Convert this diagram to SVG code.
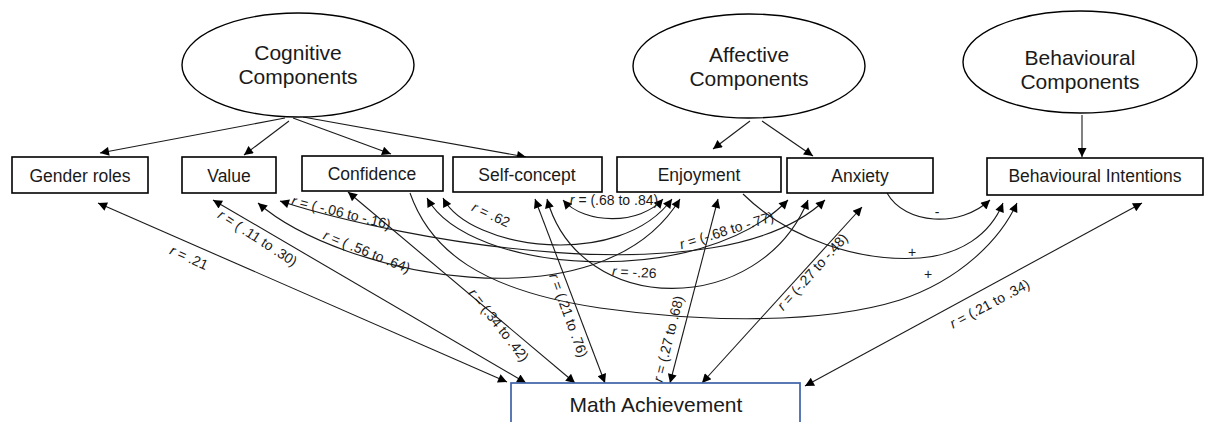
<svg xmlns="http://www.w3.org/2000/svg" width="1205" height="422" viewBox="0 0 1205 422">
<defs>
<marker id="ah" viewBox="0 0 10 10" refX="10" refY="5" markerWidth="11" markerHeight="9" markerUnits="userSpaceOnUse" orient="auto-start-reverse"><path d="M0,0 L10,5 L0,10 z" fill="#000"/></marker>
<style>
.ell{fill:#fff;stroke:#000;stroke-width:1.4}
.box{fill:#fff;stroke:#000;stroke-width:1.6}
.mbox{fill:#fff;stroke:#3d62a8;stroke-width:1.7}
.t{font-family:"Liberation Sans",Arial,sans-serif;fill:#1a1a1a;text-anchor:middle}
.big{font-size:21px}
.nl{font-size:17.5px}
.lb{font-size:14px}
.c{fill:none;stroke:#1a1a1a;stroke-width:1.1}
.s{marker-end:url(#ah)}
.d{marker-start:url(#ah);marker-end:url(#ah)}
</style>
</defs>
<rect width="1205" height="422" fill="#fff"/>

<g id="connectors">
<path class="c s" d="M285,118 L100,153"/>
<path class="c s" d="M289,121 L244,155"/>
<path class="c s" d="M293,118 L391,154"/>
<path class="c s" d="M303,117 L526,157"/>
<path class="c s" d="M750,121 L713,149"/>
<path class="c s" d="M762,121 L813,156"/>
<path class="c s" d="M1082,115 L1082,157"/>

<path class="c d" d="M98,203 L507,382"/>
<path class="c d" d="M213,200 L526,383"/>
<path class="c d" d="M348,192 L575,383"/>
<path class="c d" d="M535,199 L605,383"/>
<path class="c d" d="M718,199 L670,383"/>
<path class="c d" d="M862,207 L702,383"/>
<path class="c d" d="M1142,203 L805,386"/>

<path class="c d" d="M563,200 C585,225 640,225 663,199"/>
<path class="c d" d="M443,198 C470,250 620,270 672,199"/>
<path class="c d" d="M258,203 C340,275 600,330 680,199"/>
<path class="c d" d="M280,201 C400,240 720,300 825,200"/>
<path class="c d" d="M427,198 C470,275 700,290 788,200"/>
<path class="c d" d="M547,199 C580,318 760,318 808,200"/>

<path class="c s" d="M410,193 C430,250 480,290 600,308 C700,322 820,325 900,300 C960,280 1000,240 1017,203"/>
<path class="c s" d="M743,194 C790,240 860,262 920,258 C960,255 990,235 1003,203"/>
<path class="c s" d="M887,193 C905,225 960,228 990,200"/>
</g>

<g id="cognitive"><ellipse class="ell" cx="298" cy="65" rx="116" ry="52"/><text class="t big" x="298" y="60">Cognitive</text><text class="t big" x="298" y="84">Components</text></g>
<g id="affective"><ellipse class="ell" cx="749" cy="66" rx="116" ry="52"/><text class="t big" x="749" y="62">Affective</text><text class="t big" x="749" y="86">Components</text></g>
<g id="behavioural"><ellipse class="ell" cx="1080" cy="62" rx="117" ry="51"/><text class="t big" x="1080" y="65">Behavioural</text><text class="t big" x="1080" y="89">Components</text></g>

<g id="gender"><rect class="box" x="12" y="157" width="136" height="36"/><text class="t nl" x="80" y="182">Gender roles</text></g>
<g id="value"><rect class="box" x="182" y="157" width="94" height="36"/><text class="t nl" x="229" y="182">Value</text></g>
<g id="confidence"><rect class="box" x="302" y="156" width="141" height="35"/><text class="t nl" x="372" y="180">Confidence</text></g>
<g id="selfconcept"><rect class="box" x="453" y="157" width="149" height="35"/><text class="t nl" x="527" y="181">Self-concept</text></g>
<g id="enjoyment"><rect class="box" x="617" y="157" width="164" height="35"/><text class="t nl" x="699" y="181">Enjoyment</text></g>
<g id="anxiety"><rect class="box" x="787" y="158" width="146" height="35"/><text class="t nl" x="860" y="182">Anxiety</text></g>
<g id="intentions"><rect class="box" x="987" y="158" width="216" height="37"/><text class="t nl" x="1095" y="182">Behavioural Intentions</text></g>
<g id="math"><rect class="mbox" x="511" y="383" width="289" height="45"/><text class="t big" x="656" y="412">Math Achievement</text></g>

<g id="labels" class="t lb">
<text transform="translate(187,262) rotate(24)"><tspan font-style="italic">r</tspan> = .21</text>
<text transform="translate(255,242) rotate(33)"><tspan font-style="italic">r</tspan> = ( .11 to .30)</text>
<text transform="translate(340,217) rotate(14)"><tspan font-style="italic">r</tspan> = ( -.06 to -.16)</text>
<text transform="translate(365,256) rotate(22)"><tspan font-style="italic">r</tspan> = ( .56 to .64)</text>
<text transform="translate(489,219) rotate(25)"><tspan font-style="italic">r</tspan> = .62</text>
<text x="614" y="205"><tspan font-style="italic">r</tspan> = (.68 to .84)</text>
<text transform="translate(728,235) rotate(-17)"><tspan font-style="italic">r</tspan> = (-.68 to -.77)</text>
<text transform="translate(634,277) rotate(3)"><tspan font-style="italic">r</tspan> = -.26</text>
<text transform="translate(495,328) rotate(52)"><tspan font-style="italic">r</tspan> = (.34 to .42)</text>
<text transform="translate(564,317) rotate(70)"><tspan font-style="italic">r</tspan> = (.21 to .76)</text>
<text transform="translate(673,340) rotate(-76)"><tspan font-style="italic">r</tspan> = (.27 to .68)</text>
<text transform="translate(816,275) rotate(-48)"><tspan font-style="italic">r</tspan> = (-.27 to -.48)</text>
<text transform="translate(992,308) rotate(-28)"><tspan font-style="italic">r</tspan> = (.21 to .34)</text>
<text x="937" y="217">-</text>
<text x="912" y="257">+</text>
<text x="928" y="279">+</text>
</g>
</svg>
